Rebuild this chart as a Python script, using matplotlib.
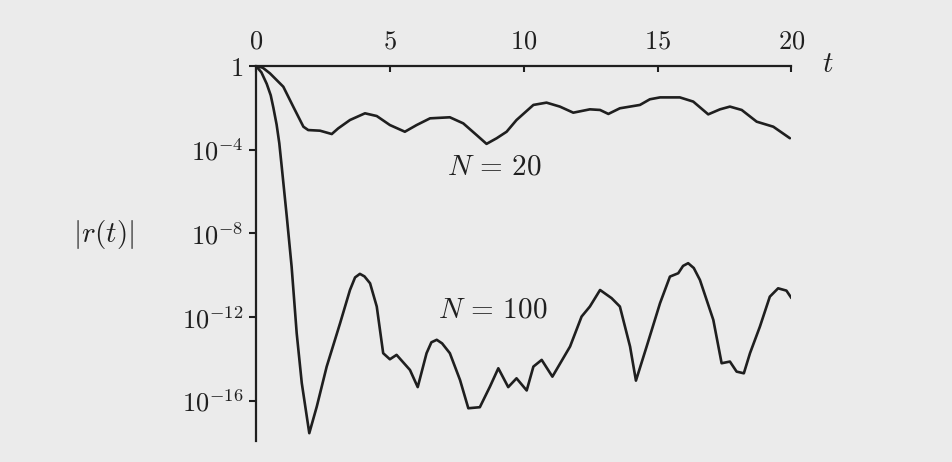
import numpy as np
import matplotlib
matplotlib.use("Agg")
import matplotlib.pyplot as plt
from matplotlib.ticker import NullLocator

plt.rcParams['mathtext.fontset'] = 'cm'
plt.rcParams['font.family'] = ['DejaVu Serif']

# ---- data ----
# N = 20 : time and log10|r(t)|
t_n20 = [0.0, 0.25, 0.52, 1.02, 1.39, 1.77, 1.95, 2.39, 2.83, 3.07, 3.51, 4.07, 4.51,
         5.0, 5.56, 6.0, 6.5, 7.24, 7.74, 8.24, 8.61, 8.99, 9.36, 9.73, 10.36,
         10.85, 11.35, 11.85, 12.47, 12.85, 13.16, 13.59, 14.34, 14.71, 15.09,
         15.83, 16.33, 16.89, 17.33, 17.70, 18.14, 18.70, 19.32, 19.94]
log_r_n20 = [0.0, -0.08, -0.35, -0.99, -1.94, -2.90, -3.06, -3.09, -3.25, -2.98,
             -2.58, -2.26, -2.39, -2.82, -3.14, -2.82, -2.50, -2.45, -2.74, -3.30,
             -3.72, -3.45, -3.14, -2.58, -1.86, -1.75, -1.94, -2.23, -2.07, -2.10,
             -2.29, -2.02, -1.86, -1.59, -1.50, -1.50, -1.70, -2.31, -2.07, -1.94,
             -2.10, -2.66, -2.90, -3.45]

# N = 100 : time and log10|r(t)|
t_n100 = [0.0, 0.2, 0.4, 0.55, 0.65, 0.77, 0.87, 0.96, 1.15, 1.33, 1.52, 1.71, 1.99,
          2.27, 2.64, 3.14, 3.51, 3.70, 3.88, 4.05, 4.26, 4.51, 4.75, 5.0, 5.25,
          5.75, 6.04, 6.37, 6.55, 6.75, 6.95, 7.24, 7.62, 7.93, 8.36, 8.74, 9.05,
          9.42, 9.73, 10.11, 10.36, 10.67, 11.07, 11.73, 12.16, 12.47, 12.85,
          13.28, 13.59, 13.97, 14.19, 14.59, 15.09, 15.46, 15.77, 15.95, 16.14,
          16.35, 16.58, 17.08, 17.39, 17.70, 17.95, 18.22, 18.45, 18.82, 19.19,
          19.50, 19.81, 20.0]
log_r_n100 = [0.0, -0.3, -0.85, -1.4, -2.0, -2.8, -3.69, -4.8, -7.20, -9.58, -12.77,
              -15.15, -17.54, -16.27, -14.36, -12.29, -10.70, -10.1, -9.93, -10.05,
              -10.38, -11.49, -13.72, -14.01, -13.80, -14.52, -15.34, -13.72, -13.2,
              -13.08, -13.25, -13.72, -15.0, -16.35, -16.30, -15.31, -14.44, -15.34,
              -14.92, -15.50, -14.36, -14.04, -14.84, -13.40, -11.97, -11.49, -10.70,
              -11.09, -11.49, -13.40, -15.03, -13.40, -11.33, -10.06, -9.90, -9.55,
              -9.42, -9.65, -10.22, -12.13, -14.20, -14.12, -14.60, -14.68, -13.72,
              -12.45, -11.02, -10.62, -10.73, -11.09]

x_ticks = [0, 5, 10, 15, 20]
x_tick_labels = ['$0$', '$5$', '$10$', '$15$', '$20$']
y_tick_exps = [0, -4, -8, -12, -16]
y_tick_labels = ['$1$', '$10^{-4}$', '$10^{-8}$', '$10^{-12}$', '$10^{-16}$']

W, H = 953, 462
bg = '#ebebeb'
ink = '#1f1f1f'

fig = plt.figure(figsize=(W / 100, H / 100), dpi=100)
fig.patch.set_facecolor(bg)
x0, x1, y0, y1 = 256, 791.5, 66, 440.7
ax = fig.add_axes([x0 / W, 1 - y1 / H, (x1 - x0) / W, (y1 - y0) / H])
ax.set_facecolor('none')
ax.set_yscale('log')
ax.set_xlim(0, 20)
ax.set_ylim(10 ** -17.9, 1)

ax.plot(t_n20, 10.0 ** np.array(log_r_n20), color=ink, lw=1.9,
        solid_joinstyle='round', solid_capstyle='round')
ax.plot(t_n100, 10.0 ** np.array(log_r_n100), color=ink, lw=1.9,
        solid_joinstyle='round', solid_capstyle='round')

for s in ['right', 'bottom']:
    ax.spines[s].set_visible(False)
for s in ['left', 'top']:
    ax.spines[s].set_color(ink)
    ax.spines[s].set_linewidth(1.6)

ax.xaxis.tick_top()
ax.set_xticks(x_ticks)
ax.set_xticklabels(x_tick_labels)
ax.tick_params(axis='x', direction='in', length=4, width=1.5, color=ink,
               labelsize=19, pad=9, labelcolor=ink)
ax.set_yticks([10.0 ** e for e in y_tick_exps])
ax.set_yticklabels(y_tick_labels)
ax.yaxis.set_minor_locator(NullLocator())
ax.tick_params(axis='y', direction='out', length=5, width=1.5, color=ink,
               labelsize=19, pad=4, labelcolor=ink)

ax.text(21.36, 10 ** 0.1, '$t$', fontsize=21, ha='center', va='center',
        color=ink, clip_on=False)
ax.text(-5.71, 10 ** -8.07, '$|r(t)|$', fontsize=21, ha='center', va='center',
        color=ink, clip_on=False)
ax.text(8.89, 10 ** -4.82, r'$N\,=\,20$', fontsize=21, ha='center', va='center', color=ink)
ax.text(8.85, 10 ** -11.65, r'$N\,=\,100$', fontsize=21, ha='center', va='center', color=ink)

fig.savefig('out.png', dpi=100, facecolor=bg)
